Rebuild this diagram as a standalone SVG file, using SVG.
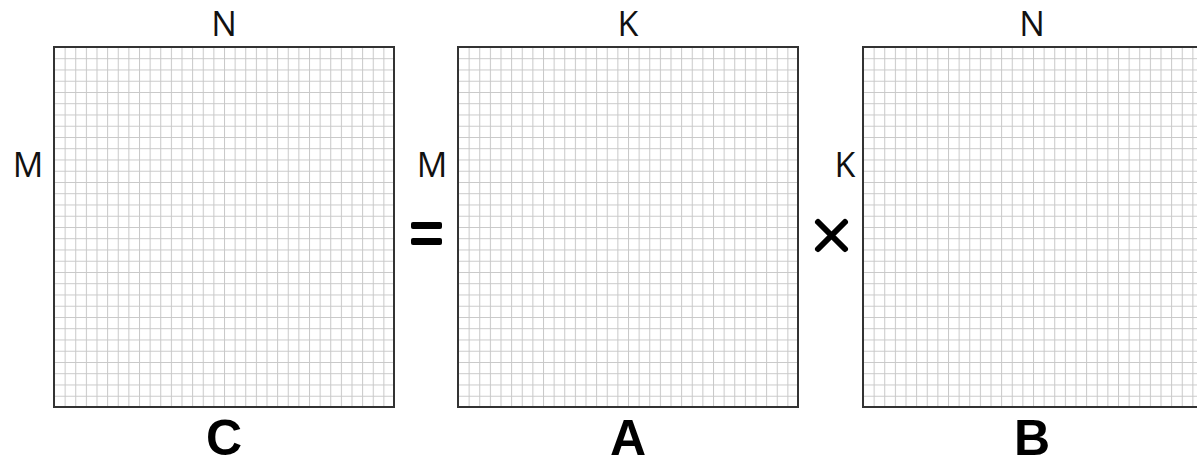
<svg xmlns="http://www.w3.org/2000/svg" width="1197" height="466" viewBox="0 0 1197 466">
<defs>
<style>
.lbl{font-family:"Open Sans","Liberation Sans",sans-serif;font-size:34px;fill:#111}
.big{font-family:"Liberation Sans",Arial,sans-serif;font-size:50px;font-weight:bold;fill:#000}
.frame{fill:none;stroke:#333;stroke-width:2}
</style>
<pattern id="gC" x="54" y="47" width="10.625" height="11.25" patternUnits="userSpaceOnUse">
<rect width="10.625" height="11.25" fill="#fff"/>
<path d="M0 0V11.25M0 0H10.625" stroke="#c8c8c8" stroke-width="2"/>
</pattern>
<pattern id="gA" x="458" y="47" width="10.625" height="11.25" patternUnits="userSpaceOnUse">
<rect width="10.625" height="11.25" fill="#fff"/>
<path d="M0 0V11.25M0 0H10.625" stroke="#c8c8c8" stroke-width="2"/>
</pattern>
<pattern id="gB" x="863" y="47" width="10.625" height="11.25" patternUnits="userSpaceOnUse">
<rect width="10.625" height="11.25" fill="#fff"/>
<path d="M0 0V11.25M0 0H10.625" stroke="#c8c8c8" stroke-width="2"/>
</pattern>
</defs>
<rect width="1197" height="466" fill="#fff"/>
<g id="matC">
<rect x="54" y="47" width="340" height="360" fill="url(#gC)"/>
<rect class="frame" x="54" y="47" width="340" height="360"/>
<text class="lbl" x="224" y="36" text-anchor="middle">N</text>
<text class="lbl" x="28" y="177" text-anchor="middle">M</text>
<text class="big" x="224" y="455" text-anchor="middle">C</text>
</g>
<g id="eq">
<rect x="411" y="222" width="31" height="7" rx="2" fill="#000"/>
<rect x="411" y="238" width="31" height="7" rx="2" fill="#000"/>
</g>
<g id="matA">
<rect x="458" y="47" width="340" height="360" fill="url(#gA)"/>
<rect class="frame" x="458" y="47" width="340" height="360"/>
<text class="lbl" x="628" y="36" text-anchor="middle">K</text>
<text class="lbl" x="432" y="177" text-anchor="middle">M</text>
<text class="big" x="628" y="455" text-anchor="middle">A</text>
</g>
<g id="times">
<path d="M818 222L845 249M845 222L818 249" stroke="#000" stroke-width="6" stroke-linecap="round"/>
</g>
<g id="matB">
<rect x="863" y="47" width="340" height="360" fill="url(#gB)"/>
<rect class="frame" x="863" y="47" width="340" height="360"/>
<text class="lbl" x="1032" y="36" text-anchor="middle">N</text>
<text class="lbl" x="845" y="177" text-anchor="middle">K</text>
<text class="big" x="1032" y="455" text-anchor="middle">B</text>
</g>
<g id="connectors"></g>
</svg>
